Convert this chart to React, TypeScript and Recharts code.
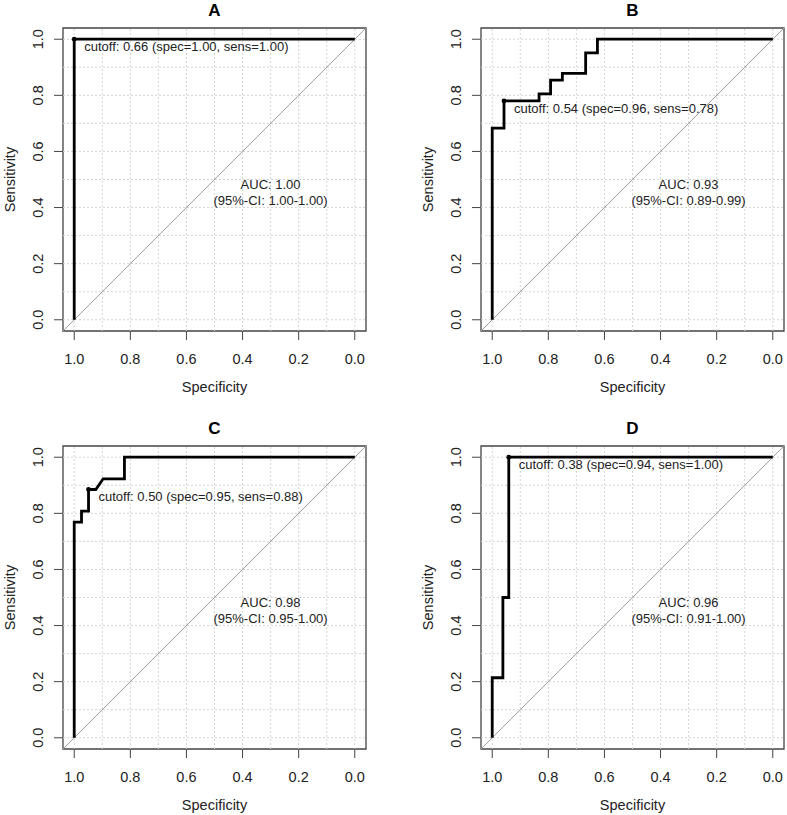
import { LineChart, Line, XAxis, YAxis, ReferenceLine, ReferenceArea, ReferenceDot, Label } from "recharts";

const FONT = '"Liberation Sans", Arial, Helvetica, sans-serif';

// ROC curve points (specificity / sensitivity)
const specA = [1, 1, 0];
const sensA = [0, 1, 1];

const specB = [1, 1, 0.958, 0.958, 0.833, 0.833, 0.792, 0.792, 0.75, 0.75, 0.667, 0.667, 0.625, 0.625, 0];
const sensB = [0, 0.683, 0.683, 0.78, 0.78, 0.805, 0.805, 0.854, 0.854, 0.878, 0.878, 0.951, 0.951, 1, 1];

const specC = [1, 1, 0.974, 0.974, 0.949, 0.949, 0.923, 0.897, 0.821, 0.821, 0];
const sensC = [0, 0.769, 0.769, 0.808, 0.808, 0.885, 0.885, 0.923, 0.923, 1, 1];

const specD = [1, 1, 0.962, 0.962, 0.941, 0.941, 0];
const sensD = [0, 0.214, 0.214, 0.5, 0.5, 1, 1];

// best-threshold points
const cutA = { spec: 1, sens: 1 };
const cutB = { spec: 0.958, sens: 0.78 };
const cutC = { spec: 0.949, sens: 0.885 };
const cutD = { spec: 0.941, sens: 1 };

const AXIS_TICKS = [0, 0.2, 0.4, 0.6, 0.8, 1];
const GRID_VALUES = [0, 0.1, 0.2, 0.3, 0.4, 0.5, 0.6, 0.7, 0.8, 0.9, 1];
const DOMAIN: [number, number] = [-0.04, 1.04];
const AUC_POS = { spec: 0.3, sens: 0.455 };

/* ── rotated y tick, R style ─────────────────────────────────────────── */
function YTick(props: any) {
  const { x, y, payload } = props;
  const cx = x - 16;
  return (
    <text
      x={cx}
      y={y}
      transform={`rotate(-90, ${cx}, ${y})`}
      textAnchor="middle"
      dominantBaseline="central"
      fontSize={14.5}
      fill="#222"
      fontFamily={FONT}
    >
      {Number(payload.value).toFixed(1)}
    </text>
  );
}

function cutoffLabel(text: string) {
  return (p: any) => {
    const vb = p.viewBox;
    const cx = vb.x + vb.width / 2;
    const cy = vb.y + vb.height / 2;
    return (
      <text x={cx + 10} y={cy + 7.5} dominantBaseline="central" fontSize={13} fill="#222" fontFamily={FONT}>
        {text}
      </text>
    );
  };
}

function aucLabel(line1: string, line2: string) {
  return (p: any) => {
    const vb = p.viewBox;
    const cx = vb.x + vb.width / 2;
    const cy = vb.y + vb.height / 2;
    return (
      <text textAnchor="middle" dominantBaseline="central" fontSize={13} fill="#222" fontFamily={FONT}>
        <tspan x={cx} y={cy - 8}>{line1}</tspan>
        <tspan x={cx} y={cy + 8}>{line2}</tspan>
      </text>
    );
  };
}

interface PanelProps {
  title: string;
  spec: number[];
  sens: number[];
  cut: { spec: number; sens: number };
  cutText: string;
  auc: string;
  ci: string;
  left: number;
  top: number;
}

function Panel({ title, spec, sens, cut, cutText, auc, ci, left, top }: PanelProps) {
  const data = spec.map((s, i) => ({ spec: s, sens: sens[i] }));
  return (
    <div style={{ position: "absolute", left, top }}>
      <LineChart width={369} height={397} data={data} margin={{ top: 28, right: 3, bottom: 5, left: 0 }}>
        <XAxis
          dataKey="spec"
          type="number"
          domain={DOMAIN}
          reversed
          allowDataOverflow
          ticks={AXIS_TICKS}
          interval={0}
          height={61}
          tickSize={9}
          tickMargin={14}
          axisLine={false}
          stroke="#444"
          tick={{ fontSize: 14.5, fill: "#222", fontFamily: FONT }}
          tickFormatter={(v: number) => v.toFixed(1)}
        >
          <Label value="Specificity" position="insideBottom" offset={0} fontSize={14.5} fill="#222" fontFamily={FONT} />
        </XAxis>
        <YAxis
          type="number"
          domain={DOMAIN}
          allowDataOverflow
          ticks={AXIS_TICKS}
          interval={0}
          width={63}
          tickSize={9}
          tickMargin={0}
          axisLine={false}
          stroke="#444"
          tick={<YTick />}
        >
          <Label
            value="Sensitivity"
            angle={-90}
            position="insideLeft"
            offset={10}
            fontSize={14.5}
            fill="#222"
            fontFamily={FONT}
            style={{ textAnchor: "middle" }}
          />
        </YAxis>

        {GRID_VALUES.map((v) => (
          <ReferenceLine key={`gx${v}`} x={v} stroke="#d4d4d4" strokeDasharray="2 2" />
        ))}
        {GRID_VALUES.map((v) => (
          <ReferenceLine key={`gy${v}`} y={v} stroke="#d4d4d4" strokeDasharray="2 2" />
        ))}
        <ReferenceLine
          segment={[
            { x: DOMAIN[1], y: DOMAIN[0] },
            { x: DOMAIN[0], y: DOMAIN[1] },
          ]}
          stroke="#a0a0a0"
          strokeWidth={1}
        />
        <ReferenceArea
          x1={DOMAIN[0]}
          x2={DOMAIN[1]}
          y1={DOMAIN[0]}
          y2={DOMAIN[1]}
          fill="none"
          fillOpacity={0}
          stroke="#444"
          strokeWidth={1.3}
          label={{ value: title, position: "top", offset: 12, fontSize: 17, fontWeight: "bold", fill: "#000", fontFamily: FONT }}
        />

        <Line type="linear" dataKey="sens" stroke="#000" strokeWidth={2.8} dot={false} isAnimationActive={false} />

        <ReferenceDot x={cut.spec} y={cut.sens} r={2.4} fill="#000" stroke="none" label={cutoffLabel(cutText)} />
        <ReferenceDot x={AUC_POS.spec} y={AUC_POS.sens} r={0} fill="none" stroke="none" label={aucLabel(auc, ci)} />
      </LineChart>
    </div>
  );
}

export default function App() {
  return (
    <div
      style={{
        position: "absolute",
        left: 0,
        top: 0,
        width: 787,
        height: 815,
        overflow: "hidden",
        background: "#fff",
        fontFamily: FONT,
      }}
    >
      <Panel
        title="A"
        spec={specA}
        sens={sensA}
        cut={cutA}
        cutText="cutoff: 0.66 (spec=1.00, sens=1.00)"
        auc="AUC: 1.00"
        ci="(95%-CI: 1.00-1.00)"
        left={0}
        top={0}
      />
      <Panel
        title="B"
        spec={specB}
        sens={sensB}
        cut={cutB}
        cutText="cutoff: 0.54 (spec=0.96, sens=0.78)"
        auc="AUC: 0.93"
        ci="(95%-CI: 0.89-0.99)"
        left={418}
        top={0}
      />
      <Panel
        title="C"
        spec={specC}
        sens={sensC}
        cut={cutC}
        cutText="cutoff: 0.50 (spec=0.95, sens=0.88)"
        auc="AUC: 0.98"
        ci="(95%-CI: 0.95-1.00)"
        left={0}
        top={418}
      />
      <Panel
        title="D"
        spec={specD}
        sens={sensD}
        cut={cutD}
        cutText="cutoff: 0.38 (spec=0.94, sens=1.00)"
        auc="AUC: 0.96"
        ci="(95%-CI: 0.91-1.00)"
        left={418}
        top={418}
      />
    </div>
  );
}
